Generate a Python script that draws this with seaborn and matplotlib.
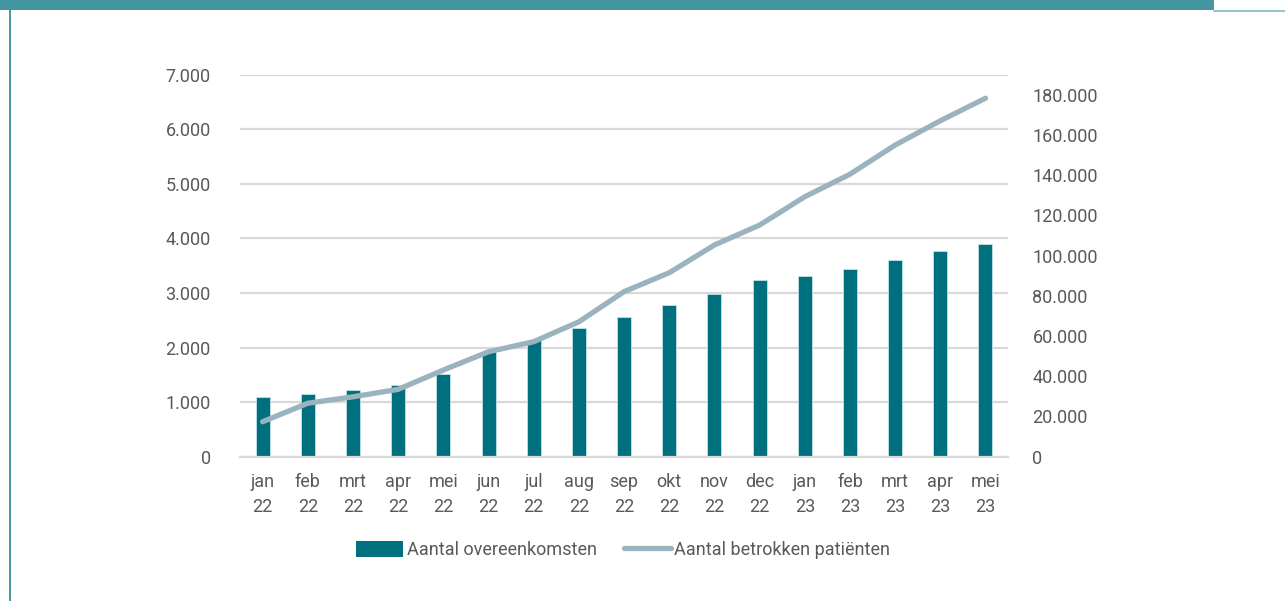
import matplotlib
matplotlib.use("Agg")
import matplotlib.pyplot as plt
from matplotlib.ticker import FixedLocator, FuncFormatter
from matplotlib.lines import Line2D
from matplotlib.patches import Patch, Rectangle
import numpy as np
import pandas as pd
import seaborn as sns

# Monthly figures, Jan 2022 - May 2023
months = ["jan\n22", "feb\n22", "mrt\n22", "apr\n22", "mei\n22", "jun\n22",
          "jul\n22", "aug\n22", "sep\n22", "okt\n22", "nov\n22", "dec\n22",
          "jan\n23", "feb\n23", "mrt\n23", "apr\n23", "mei\n23"]
overeenkomsten = [1095, 1140, 1220, 1305, 1515, 1925, 2135, 2350, 2555, 2775,
                  2975, 3230, 3310, 3440, 3600, 3770, 3900]
patienten = [17400, 26600, 29800, 33500, 43100, 52200, 57200, 67100, 82100,
             91500, 105300, 115200, 129300, 140500, 155000, 167100, 178300]

left_ticks = [0, 1000, 2000, 3000, 4000, 5000, 6000, 7000]
right_ticks = [0, 20000, 40000, 60000, 80000, 100000, 120000, 140000, 160000, 180000]

label_bar = "Aantal overeenkomsten"
label_line = "Aantal betrokken patiënten"

df = pd.DataFrame({"maand": months, "idx": np.arange(len(months)),
                   "overeenkomsten": overeenkomsten, "patienten": patienten})

sns.set_theme(style="white")
plt.rcParams["font.family"] = ["Roboto", "DejaVu Sans"]

BAR = "#00707E"
LINE = "#9AB3BE"
TEXT = "#595959"
GRID = "#D9D9D9"
FRAME = "#4497A1"
FS = 13

fig = plt.figure(figsize=(12.85, 6.01), dpi=100)
ax = fig.add_axes([0.1868, 0.2401, 0.5977, 0.6356])

sns.barplot(data=df, x="maand", y="overeenkomsten", order=months, color=BAR,
            saturation=1, width=0.31, edgecolor="#BFE3E6", linewidth=0.6, ax=ax,
            zorder=2)

ax.set_xlim(-0.5, len(months) - 0.5)
ax.set_ylim(0, 7000)
ax.yaxis.set_major_locator(FixedLocator(left_ticks))
dutch = FuncFormatter(lambda v, p: f"{int(v):,}".replace(",", "."))
ax.yaxis.set_major_formatter(dutch)
ax.grid(axis="y", color=GRID, linewidth=1.6, zorder=0)
ax.set_axisbelow(True)
ax.set_xlabel("")
ax.set_ylabel("")
for s in ["top", "right", "left"]:
    ax.spines[s].set_visible(False)
ax.spines["bottom"].set_color(GRID)
ax.spines["bottom"].set_linewidth(1.6)

# category separators on the x axis
ax.set_xticks(np.arange(len(months)))
ax.set_xticklabels(months)
ax.set_xticks(np.arange(len(months) + 1) - 0.5, minor=True)
ax.tick_params(axis="x", which="major", length=0, pad=12, labelsize=FS,
               labelcolor=TEXT)
ax.tick_params(axis="x", which="minor", length=5, width=1.3, color=GRID,
               direction="out")
ax.tick_params(axis="y", length=0, pad=21, labelsize=FS, labelcolor=TEXT)
for t in ax.get_xticklabels():
    t.set_linespacing(1.45)

ax2 = ax.twinx()
sns.lineplot(data=df, x="idx", y="patienten", color=LINE, linewidth=3.8,
             ax=ax2, solid_capstyle="round", solid_joinstyle="round")
ax2.set_ylim(0, 190000)
ax2.yaxis.set_major_locator(FixedLocator(right_ticks))
ax2.yaxis.set_major_formatter(dutch)
ax2.tick_params(axis="y", length=0, pad=17.5, labelsize=FS, labelcolor=TEXT)
ax2.set_xlabel("")
ax2.set_ylabel("")
for s in ax2.spines.values():
    s.set_visible(False)
ax2.set_xlim(-0.5, len(months) - 0.5)

handles = [Patch(facecolor=BAR, edgecolor="none", label=label_bar),
           Line2D([0], [0], color=LINE, linewidth=3.8, solid_capstyle="round",
                  label=label_line)]
fig.legend(handles=handles, loc="center", bbox_to_anchor=(0.485, 0.085), ncol=2,
           frameon=False, fontsize=FS, labelcolor=TEXT, handlelength=2.6,
           handleheight=1.0, handletextpad=0.2, columnspacing=1.5)

# page frame: band on top, thin rule on the left
fig.patches.append(Rectangle((0, 1 - 10 / 601), 1214 / 1285, 10 / 601,
                             transform=fig.transFigure, facecolor=FRAME,
                             edgecolor="none"))
fig.add_artist(Line2D([1214 / 1285, 1], [1 - 10.5 / 601, 1 - 10.5 / 601],
                      transform=fig.transFigure, color="#7DB8BF", linewidth=1.2))
fig.add_artist(Line2D([9.5 / 1285, 9.5 / 1285], [0, 1 - 10 / 601],
                      transform=fig.transFigure, color=FRAME, linewidth=1.4))

fig.savefig("out.png", dpi=100, facecolor="white")
